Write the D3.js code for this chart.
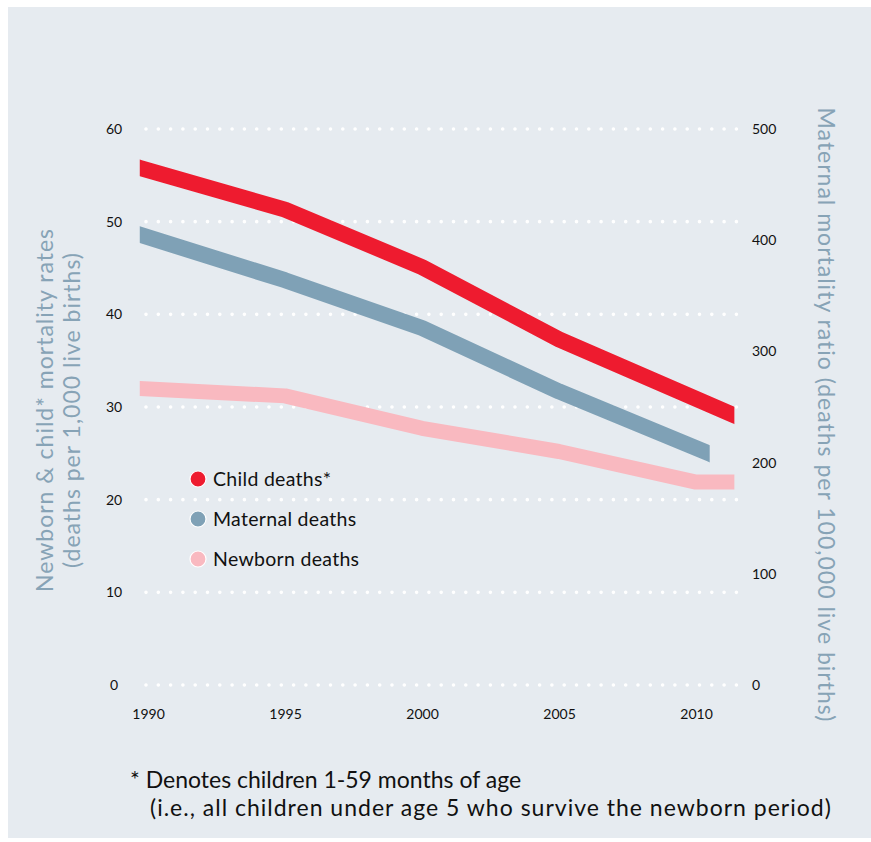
<!DOCTYPE html>
<html>
<head>
<meta charset="utf-8">
<script src="https://cdn.jsdelivr.net/npm/d3@7"></script>
<style>
  body { margin: 0; background: #fff; }
  text { font-family: Lato, "Open Sans", sans-serif; }
</style>
</head>
<body>
<div id="chart"></div>
<script>
// values
var childYears = [1989.7, 1995, 2000, 2005, 2011.4];
var childRates = [55.8, 51.3, 45.1, 37.3, 29.1];
var maternalYears = [1989.7, 1995, 2000, 2005, 2010.5];
var maternalRatios = [405, 364, 321, 264, 208];
var newbornYears = [1989.7, 1995, 2000, 2005, 2010, 2011.4];
var newbornRates = [32, 31.2, 27.7, 25.2, 21.9, 21.9];
var leftTicks = [0, 10, 20, 30, 40, 50, 60];
var rightTicks = [0, 100, 200, 300, 400, 500];
var yearTicks = [1990, 1995, 2000, 2005, 2010];
var legendLabels = ['Child deaths*', 'Maternal deaths', 'Newborn deaths'];

var width = 871, height = 842;
var colors = { child: '#ee1b2f', maternal: '#7fa1b6', newborn: '#f9b9c0' };

var svg = d3.select('#chart').append('svg')
  .attr('width', width)
  .attr('height', height);

svg.append('rect')
  .attr('x', 8).attr('y', 7)
  .attr('width', width - 8).attr('height', 831)
  .attr('fill', '#e6ebf0');

var x = d3.scaleLinear().domain([1990, 2010]).range([148, 696]);
var yLeft = d3.scaleLinear().domain([0, 60]).range([685, 129]);
var yRight = d3.scaleLinear().domain([0, 500]).range([685, 129]);

// dotted gridlines
svg.append('g')
  .selectAll('line')
  .data(leftTicks)
  .join('line')
    .attr('x1', 146)
    .attr('x2', 744)
    .attr('y1', function(d){ return yLeft(d); })
    .attr('y2', function(d){ return yLeft(d); })
    .attr('stroke', '#fff')
    .attr('stroke-width', 3.6)
    .attr('stroke-linecap', 'round')
    .attr('stroke-dasharray', '0,12.3');

// left axis
var leftAxis = svg.append('g')
  .attr('transform', 'translate(114,0)')
  .call(d3.axisLeft(yLeft).tickValues(leftTicks).tickSize(0).tickPadding(0));
leftAxis.select('.domain').remove();
leftAxis.selectAll('text')
  .attr('text-anchor', 'middle')
  .style('font-size', '14px')
  .attr('fill', '#111');

// right axis
var rightAxis = svg.append('g')
  .attr('transform', 'translate(752,0)')
  .call(d3.axisRight(yRight).tickValues(rightTicks).tickSize(0).tickPadding(0));
rightAxis.select('.domain').remove();
rightAxis.selectAll('text')
  .style('font-size', '14px')
  .attr('fill', '#111');

// x axis
var xAxis = svg.append('g')
  .attr('transform', 'translate(0,709)')
  .call(d3.axisBottom(x).tickValues(yearTicks).tickFormat(d3.format('d')).tickSize(0).tickPadding(0));
xAxis.select('.domain').remove();
xAxis.selectAll('text')
  .style('font-size', '14px')
  .attr('fill', '#111');

// lines, ends cut straight like the original
var series = [
  { key: 'maternal', years: maternalYears, vals: maternalRatios, y: yRight, w: 16 },
  { key: 'newborn', years: newbornYears, vals: newbornRates, y: yLeft, w: 15 },
  { key: 'child', years: childYears, vals: childRates, y: yLeft, w: 16 }
];

var defs = svg.append('defs');
series.forEach(function(s){
  var pts = s.years.map(function(yr, i){ return [yr, s.vals[i]]; });
  var x0 = x(s.years[0]), x1 = x(s.years[s.years.length - 1]);
  defs.append('clipPath').attr('id', 'clip-' + s.key)
    .append('rect')
      .attr('x', x0).attr('y', 0)
      .attr('width', x1 - x0).attr('height', height);
  var line = d3.line()
    .x(function(d){ return x(d[0]); })
    .y(function(d){ return s.y(d[1]); });
  // pad the path a little so the clip makes the vertical ends
  var first = pts[0], second = pts[1];
  var last = pts[pts.length - 1], prev = pts[pts.length - 2];
  var padded = [[first[0] - 1, first[1] - (second[1] - first[1]) / (second[0] - first[0])]]
    .concat(pts)
    .concat([[last[0] + 1, last[1] + (last[1] - prev[1]) / (last[0] - prev[0])]]);
  svg.append('path')
    .attr('clip-path', 'url(#clip-' + s.key + ')')
    .attr('d', line(padded))
    .attr('fill', 'none')
    .attr('stroke', colors[s.key])
    .attr('stroke-width', s.w)
    .attr('stroke-linejoin', 'round');
});

// legend
var legend = svg.append('g').attr('transform', 'translate(198,479)');
var legendColors = [colors.child, colors.maternal, colors.newborn];
legendLabels.forEach(function(lab, i){
  var g = legend.append('g').attr('transform', 'translate(0,' + (i * 40) + ')');
  g.append('circle')
    .attr('r', 8)
    .attr('fill', legendColors[i])
    .attr('stroke', '#fff')
    .attr('stroke-width', 1.2);
  g.append('text')
    .attr('x', 15)
    .attr('dy', '0.35em')
    .style('font-size', '19.5px')
    .style('letter-spacing', '0.3px')
    .attr('fill', '#111')
    .text(lab);
});

// axis titles
var titleColor = '#87a3b6';
svg.append('text')
  .attr('transform', 'translate(53,410) rotate(-90)')
  .attr('text-anchor', 'middle')
  .style('font-size', '23px')
  .style('letter-spacing', '1px')
  .attr('fill', titleColor)
  .text('Newborn & child* mortality rates');
svg.append('text')
  .attr('transform', 'translate(80,410) rotate(-90)')
  .attr('text-anchor', 'middle')
  .style('font-size', '23px')
  .style('letter-spacing', '1px')
  .attr('fill', titleColor)
  .text('(deaths per 1,000 live births)');
svg.append('text')
  .attr('transform', 'translate(818,415) rotate(90)')
  .attr('text-anchor', 'middle')
  .style('font-size', '23px')
  .style('letter-spacing', '1px')
  .attr('fill', titleColor)
  .text('Maternal mortality ratio (deaths per 100,000 live births)');

// footnote
svg.append('text')
  .attr('x', 130).attr('y', 788)
  .style('font-size', '23px')
  .attr('fill', '#111')
  .text('* Denotes children 1-59 months of age');
svg.append('text')
  .attr('x', 150).attr('y', 816)
  .style('font-size', '23px')
  .style('letter-spacing', '1px')
  .attr('fill', '#111')
  .text('(i.e., all children under age 5 who survive the newborn period)');
</script>
</body>
</html>
